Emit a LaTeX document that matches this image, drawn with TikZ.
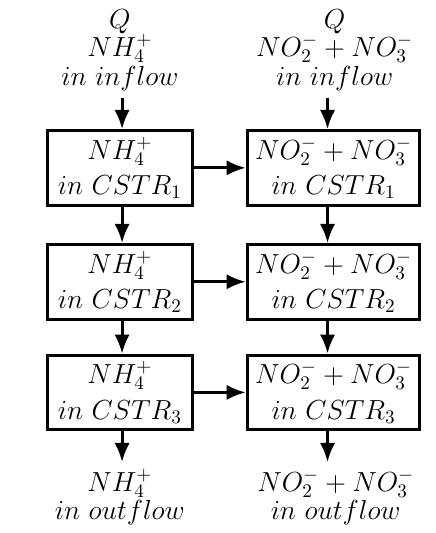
\documentclass[tikz,border=0pt]{standalone}
\usetikzlibrary{arrows.meta}

\tikzset{
	reactor/.style={draw, rectangle, line width=1.5pt, minimum height=1.28cm, align=center, font=\fontsize{13.6}{18.5}\selectfont},
	label/.style={align=center, font=\fontsize{13.6}{15}\selectfont},
	flow/.style={-{Latex[length=10pt,width=8pt]}, line width=1.5pt}
}

\begin{document}
\begin{tikzpicture}
		\useasboundingbox (0,0) rectangle (8,-9.78);
		% columns where the vertical arrows run
		\coordinate (lx) at (2.24,0);
		\coordinate (rx) at (6.01,0);
		% ammonium line
		\node[label] (ain) at (2.20,-0.92) {$Q$\\$NH_4^+$\\$in\ inflow$};
		\node[reactor, minimum width=2.66cm] (a1) at (2.20,-3.08) {$NH_4^+$\\$in\ CSTR_1$};
		\node[reactor, minimum width=2.66cm] (a2) at (2.20,-5.17) {$NH_4^+$\\$in\ CSTR_2$};
		\node[reactor, minimum width=2.66cm] (a3) at (2.20,-7.20) {$NH_4^+$\\$in\ CSTR_3$};
		\node[label] (aout) at (2.20,-9.12) {$NH_4^+$\\$in\ outflow$};
		% nitrite + nitrate line
		\node[label] (nin) at (6.14,-0.92) {$Q$\\$NO_2^- + NO_3^-$\\$in\ inflow$};
		\node[reactor, minimum width=3.17cm] (n1) at (6.12,-3.08) {$NO_2^- + NO_3^-$\\$in\ CSTR_1$};
		\node[reactor, minimum width=3.17cm] (n2) at (6.12,-5.17) {$NO_2^- + NO_3^-$\\$in\ CSTR_2$};
		\node[reactor, minimum width=3.17cm] (n3) at (6.12,-7.20) {$NO_2^- + NO_3^-$\\$in\ CSTR_3$};
		\node[label] (nout) at (6.16,-9.12) {$NO_2^- + NO_3^-$\\$in\ outflow$};
		% arrows down the columns
		\draw[flow] (ain.south -| lx) -- (a1.north -| lx);
		\draw[flow] (a1.south -| lx) -- (a2.north -| lx);
		\draw[flow] (a2.south -| lx) -- (a3.north -| lx);
		\draw[flow] (a3.south -| lx) -- (aout.north -| lx);
		\draw[flow] (nin.south -| rx) -- (n1.north -| rx);
		\draw[flow] (n1.south -| rx) -- (n2.north -| rx);
		\draw[flow] (n2.south -| rx) -- (n3.north -| rx);
		\draw[flow] (n3.south -| rx) -- (nout.north -| rx);
		% arrows across
		\draw[flow] (a1) -- (n1);
		\draw[flow] (a2) -- (n2);
		\draw[flow] (a3) -- (n3);
	\end{tikzpicture}
\end{document}
